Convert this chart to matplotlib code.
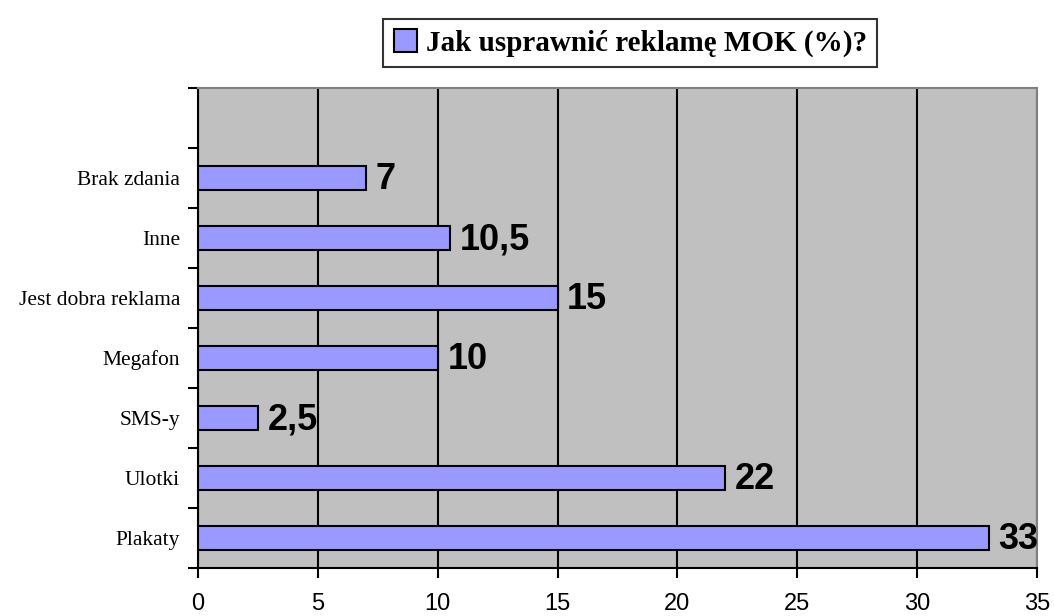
import matplotlib

matplotlib.use("Agg")
import matplotlib.pyplot as plt
import numpy as np

# dane (od dołu do góry)
categories = ["Plakaty", "Ulotki", "SMS-y", "Megafon", "Jest dobra reklama", "Inne", "Brak zdania"]
values = [33, 22, 2.5, 10, 15, 10.5, 7]
x_ticks = [0, 5, 10, 15, 20, 25, 30, 35]
series_name = "Jak usprawnić reklamę MOK (%)?"

BAR = "#9999FF"
BG = "#C0C0C0"

fig = plt.figure(figsize=(10.54, 6.16), dpi=100, facecolor="white")
ax = fig.add_axes([0.1879, 0.0779, 0.796, 0.7792])
ax.set_facecolor(BG)

y = np.arange(len(categories))
ax.barh(y, values, height=0.4, color=BAR, edgecolor="black", linewidth=1.5,
        label=series_name, zorder=3)

for yi, v in zip(y, values):
    txt = f"{v:g}".replace(".", ",")
    ax.text(v + 0.4, yi - 0.03, txt, ha="left", va="center", fontsize=26,
            fontweight="bold", family="Liberation Sans", color="black", zorder=4)

ax.set_xlim(0, 35)
ax.set_ylim(-0.5, 7.5)
ax.set_xticks(x_ticks)
ax.set_xticklabels([str(t) for t in x_ticks], family="Liberation Sans", fontsize=17)
ax.xaxis.grid(True, color="black", linewidth=1.5, zorder=1)
ax.set_axisbelow(True)

# podziałki na granicach kategorii, etykiety w środku
ax.set_yticks(np.arange(-0.5, 8.0, 1.0))
ax.set_yticklabels([])
ax.set_yticks(y, minor=True)
ax.set_yticklabels(categories, minor=True, family="Liberation Serif", fontsize=15.5)
ax.tick_params(axis="y", which="minor", length=0, pad=13)
ax.tick_params(axis="y", which="major", length=7, width=1.5, direction="out")
ax.tick_params(axis="x", length=7, width=1.5, direction="out", pad=11)

for s in ["left", "bottom"]:
    ax.spines[s].set_color("black")
    ax.spines[s].set_linewidth(1.5)
for s in ["top", "right"]:
    ax.spines[s].set_color("#808080")
    ax.spines[s].set_linewidth(1.5)

leg = fig.legend(loc="center", bbox_to_anchor=(0.598, 0.930), frameon=True,
                 fancybox=False, handlelength=0.8, handleheight=0.8,
                 handletextpad=0.3, borderpad=0.35,
                 prop={"family": "Liberation Serif", "weight": "bold", "size": 21})
leg.get_frame().set_edgecolor("black")
leg.get_frame().set_linewidth(1.5)

fig.savefig("out.png", dpi=100, facecolor="white")
